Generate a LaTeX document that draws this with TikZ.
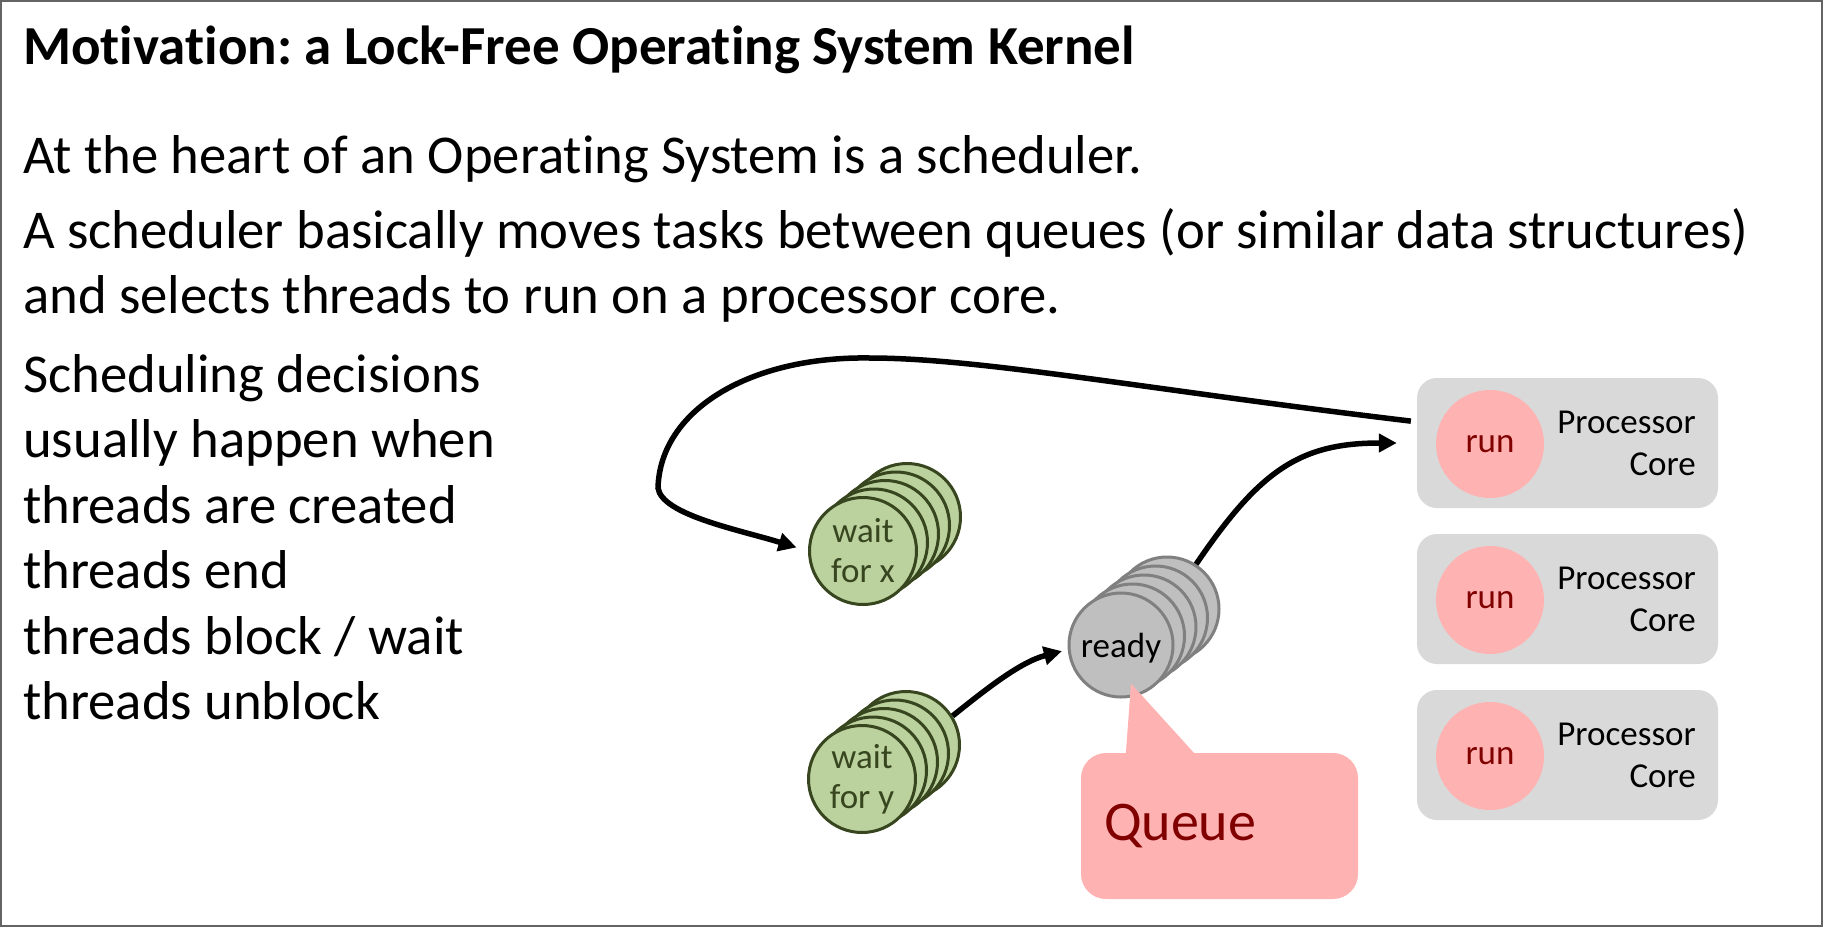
\documentclass[tikz,border=0pt]{standalone}
\usepackage{fontspec}
\setmainfont{Carlito}[Ligatures=NoCommon]
\usepackage{tikz}
\usetikzlibrary{arrows.meta}
\frenchspacing
\definecolor{waitfill}{RGB}{187,209,158}
\definecolor{waitline}{RGB}{55,70,30}
\definecolor{readyfill}{RGB}{191,191,191}
\definecolor{readyline}{RGB}{128,128,128}
\definecolor{corefill}{RGB}{217,217,217}
\definecolor{pinkfill}{RGB}{255,178,178}
\definecolor{darkred}{RGB}{128,0,0}
\definecolor{framegray}{RGB}{100,100,100}
\newcommand{\WAIT}[0]{waitfill}
\newcommand{\RUN}[0]{pinkfill}

\tikzset{
  waitdisc/.style={circle, minimum size=107pt, inner sep=0pt, fill=\WAIT, draw=waitline, line width=3pt, text=waitline, font=\fontsize{35}{40}\selectfont, align=center},
  readydisc/.style={circle, minimum size=104pt, inner sep=0pt, fill=readyfill, draw=readyline, line width=3pt, font=\fontsize{35}{40}\selectfont},
  corebox/.style={rectangle, rounded corners=20pt, fill=corefill, minimum width=301pt, minimum height=130pt},
  runcirc/.style={circle, minimum size=108pt, inner sep=0pt, fill=\RUN, text=darkred, font=\fontsize{35}{40}\selectfont},
  coretxt/.style={align=right, inner sep=0pt, font=\fontsize{35}{42}\selectfont},
  body/.style={anchor=base west, inner sep=0pt, font=\fontsize{54.7}{65}\selectfont},
  arr/.style={-{Triangle[length=18pt,width=18pt]}, line width=5.5pt}
}

\begin{document}
\begin{tikzpicture}[x=1pt, y=-1pt]

  \newcommand\DX{11}
  \newcommand\DY{8.5}

  \useasboundingbox (0,0) rectangle (1823,927);
  \draw[framegray, line width=2pt] (1,1) rectangle (1822,926);

  %% text
  \node[body, font=\fontsize{55}{60}\selectfont\bfseries] (title) at (23,64) {Motivation: a Lock-Free Operating System Kernel};
  \node[body] (top1) at (23,173) {At the heart of an Operating System is a scheduler.};
  \node[body] (top2) at (23,248) {A scheduler basically moves tasks between queues (or similar data structures)};
  \node[body] (top3) at (23,313) {and selects threads to run on a processor core.};

  \foreach \txt [count=\i] in {{Scheduling decisions}, {usually happen when}, {threads are created}, {threads end}, {threads block / wait}, {threads unblock}}
    \node[body] (when\i) at (23, 392+65.5*\i-65.5) {\txt};

  %% processor cores
  \foreach \c/\y in {1/443, 2/599, 3/755}{
    \node[corebox] (c\c) at (1567.5,\y) {};
    \node[runcirc] (r\c) at (1490,\y+1) {run};
    \node[coretxt, anchor=base east] (p\c) at (1696,\y+32) {Processor\\Core}; %% base = last line
  }

  %% wait queues
  \foreach \k in {4,3,2,1}{
    \node[waitdisc] (wx\k) at (863+\DX*\k, 551-\DY*\k) {};
    \node[waitdisc] (wy\k) at (862+\DX*\k, 779-\DY*\k) {};
  }
  \node[waitdisc] (wx) at (863,551) {wait\\for x};
  \node[waitdisc] (wy) at (862,779) {wait\\for y};

  %% ready queue
  \foreach \k in {4,3,2,1}
    \node[readydisc] (rd\k) at (1121+11.5*\k, 645-9*\k) {};
  \node[readydisc, text depth=-4pt] (rd) at (1121,645) {ready};

  %% arrows
  \draw[arr, shorten <=6pt, shorten >=12pt] (c1.172) .. controls (1150,390) and (980,358) .. (870,358)
    .. controls (750,356) and (660,410) .. (658,488)
    .. controls (662,515) and (740,530) .. (wx.west);
  \draw[arr, shorten >=6pt] (wy4.32) .. controls (985,690) and (1020,662) .. (rd.185);
  \draw[arr, shorten >=20pt] (rd4.57) .. controls (1260,470) and (1300,443) .. (c1.west);

  %% queue callout
  \node[rectangle, rounded corners=25pt, fill=\RUN, minimum width=277pt, minimum height=146pt,
        text width=231pt, inner xsep=23pt, align=left, text=darkred, font=\fontsize{56}{60}\selectfont]
        (q) at (1219.5,826) {Queue};
  \fill[\RUN] ([xshift=45pt, yshift=-1pt]q.north west) -- ([xshift=10pt, yshift=15pt]rd.south)
    -- ([xshift=114pt, yshift=-1pt]q.north west) -- cycle;

\end{tikzpicture}
\end{document}
